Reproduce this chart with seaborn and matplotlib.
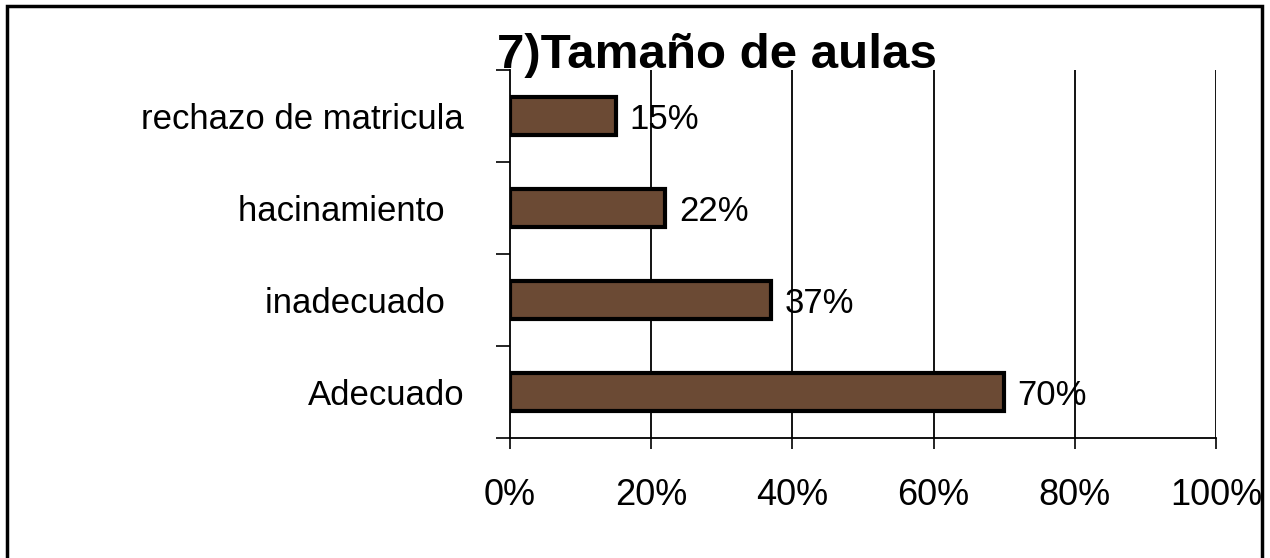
import matplotlib
matplotlib.use("Agg")
import matplotlib.pyplot as plt
import matplotlib.patches as mpatches
import seaborn as sns
import pandas as pd

categories = ["rechazo de matricula", "hacinamiento  ", "inadecuado  ", "Adecuado"]
values = [15, 22, 37, 70]
value_labels = ["15%", "22%", "37%", "70%"]
x_ticks = [0, 20, 40, 60, 80, 100]
x_tick_labels = ["0%", "20%", "40%", "60%", "80%", "100%"]
title = "7)Tamaño de aulas"

sns.set_theme(style="white")
plt.rcParams["font.family"] = ["Liberation Sans", "DejaVu Sans"]

df = pd.DataFrame({"cat": categories, "val": values})

fig = plt.figure(figsize=(12.7, 5.58), dpi=100)
ax = fig.add_axes([0.4016, 0.2151, 0.5559, 0.6595])

sns.barplot(data=df, y="cat", x="val", order=categories, orient="h",
            color="#6b4a34", saturation=1, width=0.42,
            edgecolor="black", linewidth=3, ax=ax, zorder=3)

ax.set_xlim(0, 100)
ax.set_ylim(3.5, -0.5)
ax.set_xticks(x_ticks)
ax.set_xticklabels(x_tick_labels, fontsize=26)
ax.set_xlabel("")
ax.set_ylabel("")
ax.tick_params(axis="y", which="major", length=0, pad=33, labelsize=25, labelcolor="black")
ax.set_yticks([-0.5, 0.5, 1.5, 2.5, 3.5], minor=True)
ax.tick_params(axis="y", which="minor", length=10, width=1.2, color="black", direction="out", left=True)
ax.tick_params(axis="x", which="major", length=8, width=1.2, color="black", direction="out",
               bottom=True, pad=21, labelcolor="black")

ax.grid(False)
for xv in x_ticks[1:]:
    ax.axvline(xv, color="black", linewidth=1.3, zorder=1)

for s in ["top", "right"]:
    ax.spines[s].set_visible(False)
for s in ["left", "bottom"]:
    ax.spines[s].set_visible(True)
    ax.spines[s].set_color("black")
    ax.spines[s].set_linewidth(1.3)
ax.spines["left"].set_zorder(4)

for i, (v, lab) in enumerate(zip(values, value_labels)):
    ax.text(v + 1.9, i + 0.04, lab, va="center", ha="left", fontsize=25, color="black", zorder=5)

fig.text(0.5645, 0.878, title, ha="center", va="baseline", fontsize=35.5,
         fontweight="bold", color="black")

border = mpatches.Rectangle((0.0055, -0.02), 0.9885, 1.009, transform=fig.transFigure,
                            fill=False, edgecolor="black", linewidth=2.5)
fig.patches.append(border)

fig.savefig("out.png", dpi=100, facecolor="white")
